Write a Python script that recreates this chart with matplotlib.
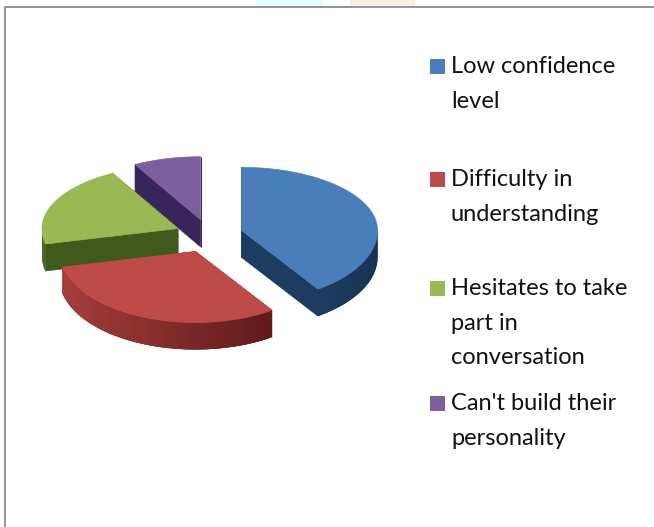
import numpy as np
import matplotlib
matplotlib.use("Agg")
import matplotlib.pyplot as plt
from matplotlib.colors import to_rgb
from matplotlib.patches import Rectangle

# --- data ---
categories = ["Low confidence\nlevel", "Difficulty in\nunderstanding",
              "Hesitates to take\npart in\nconversation", "Can't build their\npersonality"]
values = [40.5, 31, 20.5, 8]

# --- style / layout ---
top_colors = ["#4a7ebb", "#be4b48", "#98b954", "#7d5fa0"]
wall_colors = ["#1d3c62", "#7a2624", "#3f5a1c", "#38265a"]
rim_colors = [("#24486f", "#173453"), ("#a63d3b", "#5f1b1a"),
              ("#4a6a22", "#3f5a1c"), ("#38265a", "#38265a")]
legend_y = [66, 179, 288, 403]
nudge_x = [0, -1, 0, 0]
draw_order = [1, 3, 2, 0]
W, H = 654, 527
CX, CY, RX, RY_UP, RY_DOWN, DEPTH, EXPLODE = 209, 235, 136, 63, 71, 27, 0.25

plt.rcParams["font.family"] = ["Lato", "DejaVu Sans"]
fig = plt.figure(figsize=(W / 100, H / 100), dpi=100)
ax = fig.add_axes([0, 0, 1, 1])
ax.set_xlim(0, W)
ax.set_ylim(H, 0)
ax.axis("off")


def project(theta, r=1.0):
    """Clockwise angle from 12 o'clock to a flattened offset from the centre."""
    s, c = np.sin(theta), np.cos(theta)
    ry = np.where(c > 0, RY_UP, RY_DOWN)
    return r * RX * s, -r * ry * c


# faint page artefacts and frame
ax.add_patch(Rectangle((256, 0), 67, 6, color="#e2fbfd", lw=0))
ax.add_patch(Rectangle((350, 0), 65, 6, color="#fdeedd", lw=0))
ax.plot([4.5, 4.5, W], [H, 6.5, 6.5], color="#8a8a8a", lw=1.3, solid_capstyle="butt")

edges = np.radians(np.concatenate([[0], np.cumsum(values)]) * 360 / np.sum(values))

for i in draw_order:
    a0, a1 = edges[i], edges[i + 1]
    mid = (a0 + a1) / 2
    ox, oy = project(mid, EXPLODE)
    cx, cy = CX + ox + nudge_x[i], CY + oy
    t = np.linspace(a0, a1, 120)
    px, py = project(t)
    px, py = px + cx, py + cy
    # radial walls
    for a in (a0, a1):
        ex, ey = project(a)
        ax.fill([cx, cx + ex, cx + ex, cx], [cy, cy + ey, cy + ey + DEPTH, cy + DEPTH],
                color=wall_colors[i], lw=0.5, zorder=2 + i / 10)
    # outer rim with a left-to-right shade; each piece overlaps the next to avoid seams
    c_left, c_right = np.array(to_rgb(rim_colors[i][0])), np.array(to_rgb(rim_colors[i][1]))
    xmin, xmax = px.min(), px.max()
    for k in range(len(t) - 1):
        if np.cos((t[k] + t[k + 1]) / 2) < 0.05:
            f = (px[k] - xmin) / max(xmax - xmin, 1)
            col = c_left + (c_right - c_left) * f
            m = min(k + 3, len(t) - 1)
            ax.fill([px[k], px[m], px[m], px[k]],
                    [py[k], py[m], py[m] + DEPTH, py[k] + DEPTH],
                    color=col, lw=0, zorder=2.5 + i / 10)
    # top face
    ax.fill(np.r_[cx, px], np.r_[cy, py], color=top_colors[i], lw=0.5, zorder=3 + i / 10)

# legend
for name, y, col in zip(categories, legend_y, top_colors):
    ax.add_patch(Rectangle((430, y - 7.5), 15, 15, color=col, lw=0))
    ax.text(451, y - 10, name, va="top", ha="left", fontsize=17, color="#111111",
            linespacing=1.8)

fig.savefig("out.png", dpi=100, facecolor="white")
